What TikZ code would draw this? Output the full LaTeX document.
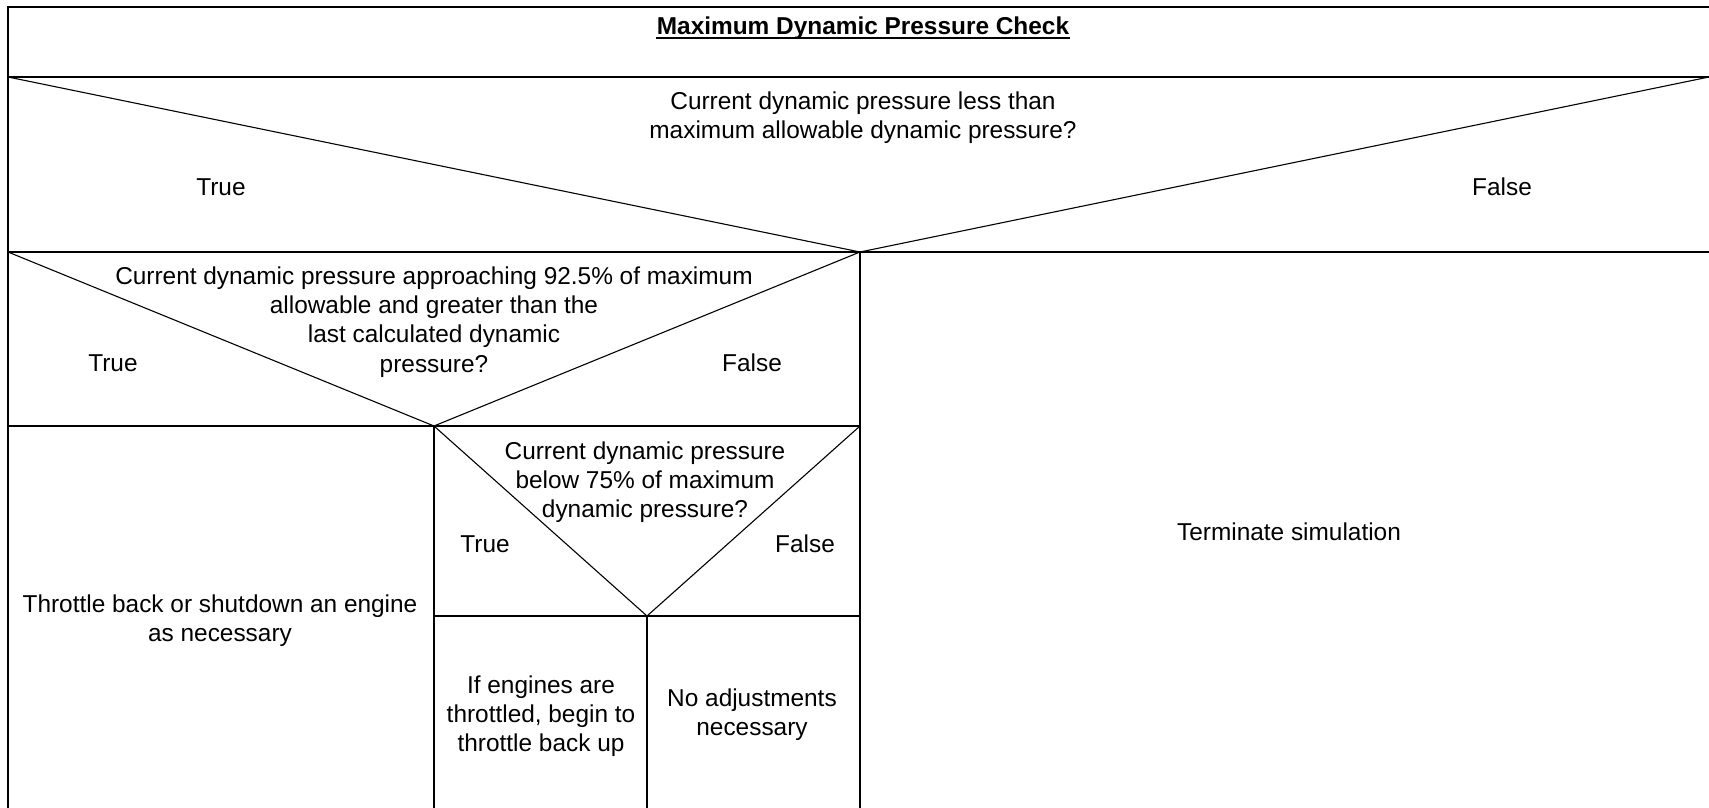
\documentclass[tikz,border=0pt]{standalone}
\usepackage{fontspec}
\setmainfont{Liberation Sans}

\begin{document}
\begin{tikzpicture}[x=0.5pt,y=-0.5pt,
    rule/.style={line width=0.55pt},
    txt/.style={align=center,inner sep=0pt,font=\fontsize{12.2}{14.6}\selectfont}]
  \useasboundingbox (0,0) rectangle (1709,808);

  % frame corners and the three branch points
  \coordinate (tl) at (8,7);
  \coordinate (tr) at (1709,7);
  \coordinate (bl) at (8,808);
  \coordinate (q1l) at (8,77);
  \coordinate (q1r) at (1709,77);
  \coordinate (q1) at (860,252);
  \coordinate (q2l) at (8,252);
  \coordinate (q2r) at (1709,252);
  \coordinate (q2) at (434,426);
  \coordinate (q3l) at (8,426);
  \coordinate (q3r) at (860,426);
  \coordinate (q3) at (647,616);
  \coordinate (q4l) at (434,616);
  \coordinate (q4r) at (860,616);

  % outer lines and rows
  \draw[rule] (bl) -- (tl) -- (tr);
  \draw[rule] (q1l) -- (q1r);
  \draw[rule] (q2l) -- (q2r);
  \draw[rule] (q3l) -- (q3r);
  \draw[rule] (q4l) -- (q4r);

  % decision triangles
  \draw[rule] (q1l) -- (q1) -- (q1r);
  \draw[rule] (q2l) -- (q2) -- (q3r |- q2l);
  \draw[rule] (q2) -- (q3) -- (q3r);

  % columns down to the bottom
  \draw[rule] (q1) -- (q1 |- bl);
  \draw[rule] (q2) -- (q2 |- bl);
  \draw[rule] (q3) -- (q3 |- bl);

  % heading, underlined by hand
  \node[txt,font=\fontsize{12.2}{14.6}\selectfont\bfseries,anchor=base] (title) at (863,35) {Maximum Dynamic Pressure Check};
  \draw[line width=1.2pt] ([yshift=-1.6pt]title.base west) -- ([yshift=-1.6pt]title.base east);

  \node[txt] (cond1) at (863,118) {Current dynamic pressure less than\\maximum allowable dynamic pressure?};
  \node[txt] (true1) at (221,187) {True};
  \node[txt] (false1) at (1502,187) {False};

  \node[txt] (cond2) at (434,322) {Current dynamic pressure approaching 92.5\% of maximum\\allowable and greater than the\\last calculated dynamic\\pressure?};
  \node[txt] (true2) at (113,363) {True};
  \node[txt] (false2) at (752,363) {False};

  \node[txt] (cond3) at (645,482) {Current dynamic pressure\\below 75\% of maximum\\dynamic pressure?};
  \node[txt] (true3) at (485,544) {True};
  \node[txt] (false3) at (805,544) {False};

  \node[txt] (throttle) at (220,621) {Throttle back or shutdown an engine\\as necessary};
  \node[txt] (throttleup) at (541,716) {If engines are\\throttled, begin to\\throttle back up};
  \node[txt] (noadjust) at (752,715) {No adjustments\\necessary};
  \node[txt] (stop) at (1289,532) {Terminate simulation};
\end{tikzpicture}
\end{document}
